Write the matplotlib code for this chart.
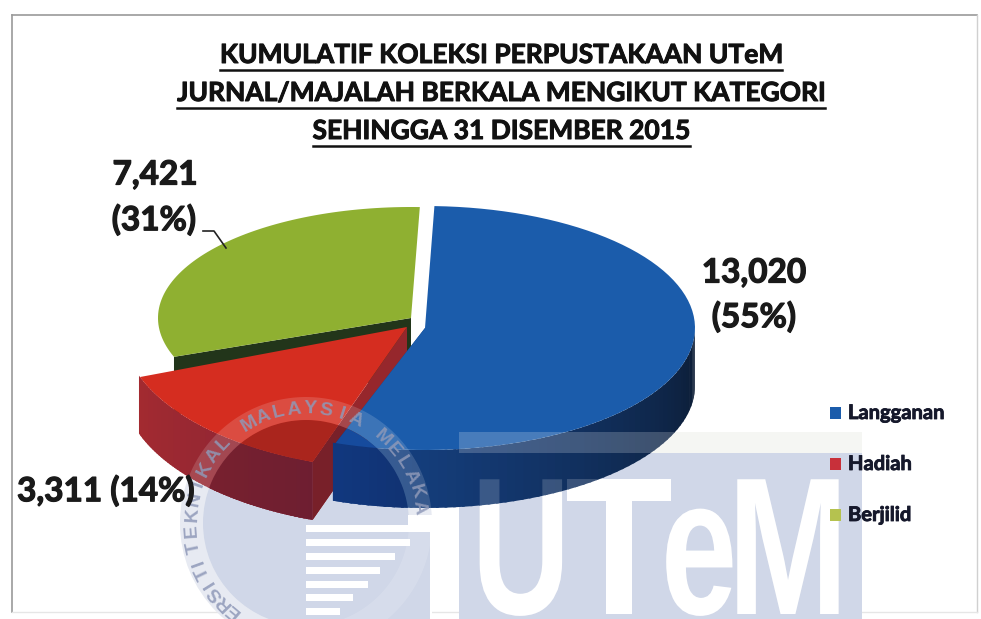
import numpy as np
import matplotlib
matplotlib.use('Agg')
import matplotlib.pyplot as plt
import matplotlib.patheffects as pe
from matplotlib.colors import to_rgb
from matplotlib.patches import Circle, Rectangle
from matplotlib.transforms import Affine2D

plt.rcParams['font.family'] = ['Lato', 'DejaVu Sans']

title_lines = ['KUMULATIF KOLEKSI PERPUSTAKAAN UTeM',
               'JURNAL/MAJALAH BERKALA MENGIKUT KATEGORI',
               'SEHINGGA 31 DISEMBER 2015']
categories = ['Langganan', 'Hadiah', 'Berjilid']
values = [13020, 3311, 7421]
percents = [55, 14, 31]

# centre x, centre y, half width, half height of each slice's top face
slice_shape = [(425, 328, 270, 122), (407, 327, 285, 143), (411, 318, 253, 111)]
top_colors = ['#1b5cab', '#d52d20', '#8fb031']
side_left = ['#16448a', '#a32a30', '#253a1c']
side_right = ['#0c1c33', '#8a2535', '#253a1c']
depth = 58
lavender = '#d0d7e8'
stamp_xy = (306, 523)

fig = plt.figure(figsize=(9.81, 6.19), dpi=100)
ax = fig.add_axes([0, 0, 1, 1])
ax.set_xlim(0, 981)
ax.set_ylim(619, 0)
ax.axis('off')


class Squeeze(pe.AbstractPathEffect):
    # narrows a glyph around its anchor, the logo letters are tall and thin
    def __init__(self, x0, sx):
        super().__init__()
        self.x0 = x0
        self.sx = sx

    def draw_path(self, renderer, gc, tpath, affine, rgbFace=None):
        squeeze = Affine2D().translate(-self.x0, 0).scale(self.sx, 1).translate(self.x0, 0)
        renderer.draw_path(gc, tpath, affine + squeeze, rgbFace)


def arc(shape, a0, a1, n=80):
    cx, cy, w, h = shape
    t = np.radians(np.linspace(a0, a1, n))
    return cx + w * np.cos(t), cy - h * np.sin(t)


def draw_slice(i, a0, a1, cut_angle, wall, z, tint=(1, 1, 1), clip=None):
    shape = slice_shape[i]
    cx, cy = shape[:2]
    tint = np.array(tint)
    c0, c1 = np.array(to_rgb(side_left[i])) * tint, np.array(to_rgb(side_right[i])) * tint
    parts = []
    # cut face along the straight edge
    xe, ye = arc(shape, cut_angle, cut_angle, 1)
    parts += ax.fill([cx, xe[0], xe[0], cx], [cy, ye[0], ye[0] + depth, cy + depth],
                     color=c0 * 0.92, lw=0, zorder=z)
    # outer wall, only the part that faces the viewer
    if wall:
        lo, hi = max(a1, -180), min(a0, 0)
        edges = np.linspace(hi, lo, 60)
        for k in range(len(edges) - 1):
            x, y = arc(shape, edges[k], edges[k + 1] - 0.6, 4)
            f = abs(edges[k] - lo) / max(abs(hi - lo), 1)
            parts += ax.fill(np.r_[x, x[::-1]], np.r_[y, y[::-1] + depth],
                             color=c0 + (c1 - c0) * f, lw=0, zorder=z)
    x, y = arc(shape, a0, a1)
    parts += ax.fill(np.r_[cx, x], np.r_[cy, y], color=np.array(to_rgb(top_colors[i])) * tint,
                     lw=0, zorder=z + 0.01)
    if clip is not None:
        for p in parts:
            p.set_clip_path(clip)


# watermark below the pie
ax.add_patch(Rectangle((459, 453), 403, 166, color=lavender, lw=0, zorder=1))
ax.add_patch(Rectangle((459, 432), 403, 21, color='#f3f4f1', lw=0, zorder=1))
ax.add_patch(Circle(stamp_xy, 126, color='#e3e7f0', lw=0, zorder=1))
ax.add_patch(Circle(stamp_xy, 103, color=lavender, lw=0, zorder=1))
ax.add_patch(Rectangle((306, 525), 126, 94, color='white', lw=0, zorder=1.1))
ax.add_patch(Rectangle((408, 515), 24, 10, color='white', lw=0, zorder=1.1))
ax.add_patch(Rectangle((306, 532), 124, 87, color=lavender, lw=0, zorder=1.2))
white_end = [423, 410, 395, 380, 368, 353, 340]
for yy, xe in zip([525, 539, 553, 567, 581, 594, 608], white_end):
    ax.add_patch(Rectangle((306, yy), xe - 306, 7, color='white', lw=0, zorder=1.3))

logo_letters = [('U', 521, 0.70), ('T', 619, 0.90), ('e', 699, 0.70), ('M', 788, 0.74)]
logo_kw = dict(family='Liberation Sans', weight='bold', ha='center', va='baseline', fontsize=141, color='white')
for ch, xx, sx in logo_letters:
    x_disp = ax.transData.transform((xx, 0))[0]
    ax.text(xx, 614, ch, zorder=1.5, path_effects=[Squeeze(x_disp, sx)], **logo_kw)

# pie, back to front, angles come from the values
total = sum(values)
sweep = [v / total * 360 for v in values]
a_blue_end = 88 - sweep[0]
a_red_end = a_blue_end - sweep[1]
a_green_end = a_red_end - sweep[2]
draw_slice(2, a_red_end, a_green_end, a_red_end, False, 2)
draw_slice(1, a_blue_end, a_red_end, a_blue_end, True, 2.2)
draw_slice(0, 88, a_blue_end, a_blue_end, True, 2.4)

# the stamp disc darkens the pie where it lies over it
disc = Circle(stamp_xy, 103, transform=ax.transData)
tint = (0.80, 0.82, 0.92)
draw_slice(1, a_blue_end, a_red_end, a_blue_end, True, 2.6, tint, disc)
draw_slice(0, 88, a_blue_end, a_blue_end, True, 2.8, tint, disc)

# watermark above the pie
ax.add_patch(Rectangle((459, 432), 403, 21, color='white', alpha=0.2, lw=0, zorder=3))
for ch, xx, sx in logo_letters:
    x_disp = ax.transData.transform((xx, 0))[0]
    ax.text(xx, 614, ch, alpha=0.17, zorder=3, path_effects=[Squeeze(x_disp, sx)], **logo_kw)
ring = np.linspace(0, 2 * np.pi, 200)
ax.fill(np.r_[stamp_xy[0] + 126 * np.cos(ring), stamp_xy[0] + 103 * np.cos(ring[::-1])],
        np.r_[stamp_xy[1] + 126 * np.sin(ring), stamp_xy[1] + 103 * np.sin(ring[::-1])],
        color='white', alpha=0.15, lw=0, zorder=3)
stamp = 'UNIVERSITI TEKNIKAL MALAYSIA MELAKA'
for i, ch in enumerate(stamp):
    ang = 82 - 8 * (len(stamp) - 1 - i)
    if i < 11:
        # letters of UNIVERSITI sit closer together
        ang = -98 - 6 * (11 - i)
    xx = stamp_xy[0] + 114 * np.sin(np.radians(ang))
    yy = stamp_xy[1] - 114 * np.cos(np.radians(ang))
    if yy < 612:
        ax.text(xx, yy, ch, fontsize=14, weight='bold', family='Liberation Sans', color='#8f99b8',
                alpha=0.85, rotation=-ang, rotation_mode='anchor', ha='center', va='center', zorder=3.2)

ax.plot([12, 977], [15, 15], color='#9a9a9a', lw=1.2, zorder=0.5)
ax.plot([12, 12], [15, 612], color='#9a9a9a', lw=1.2, zorder=0.5)
ax.plot([977, 977], [15, 612], color='#d0d0d0', lw=1, zorder=0.5)
ax.plot([12, 977], [612, 612], color='#e6e6e6', lw=1, zorder=0.5)


def heavy(col, w=0.7):
    return [pe.withStroke(linewidth=w, foreground=col)]


# title with underlines sized from the text
fig.canvas.draw()
rend = fig.canvas.get_renderer()
inv = ax.transData.inverted()
for line, yy in zip(title_lines, [55, 93, 131]):
    t = ax.text(501, yy, line, fontsize=19, weight='bold', color='#111111', ha='center', va='center',
                zorder=5, path_effects=heavy('#111111'))
    box = t.get_window_extent(rend)
    x0 = inv.transform((box.x0, 0))[0]
    x1 = inv.transform((box.x1, 0))[0]
    ax.plot([x0, x1], [yy + 15, yy + 15], color='#111111', lw=1.8, zorder=5)

label_kw = dict(fontsize=24, weight='bold', color='#1a1a1a', ha='center', va='center', zorder=5,
                path_effects=heavy('#1a1a1a', 0.9))
ax.text(155, 175, f'{values[2]:,}', **label_kw)
ax.text(154, 220, f'({percents[2]}%)', **label_kw)
ax.text(754, 273, f'{values[0]:,}', **label_kw)
ax.text(754, 317, f'({percents[0]}%)', **label_kw)
ax.text(106, 491, f'{values[1]:,} ({percents[1]}%)', **label_kw)
ax.plot([203, 214, 226], [231, 231, 248], color='#222222', lw=1.2, zorder=5)

for name, col, yy in zip(categories, ['#1b5cab', '#c8303a', '#b5c24f'], [413, 464, 515]):
    ax.add_patch(Rectangle((830, yy - 6), 11, 12, color=col, lw=0, zorder=5))
    ax.text(848, yy, name, fontsize=14.5, weight='bold', color='#15182b', va='center', zorder=5,
            path_effects=heavy('#15182b', 0.6))

fig.savefig('out.png', dpi=100)
